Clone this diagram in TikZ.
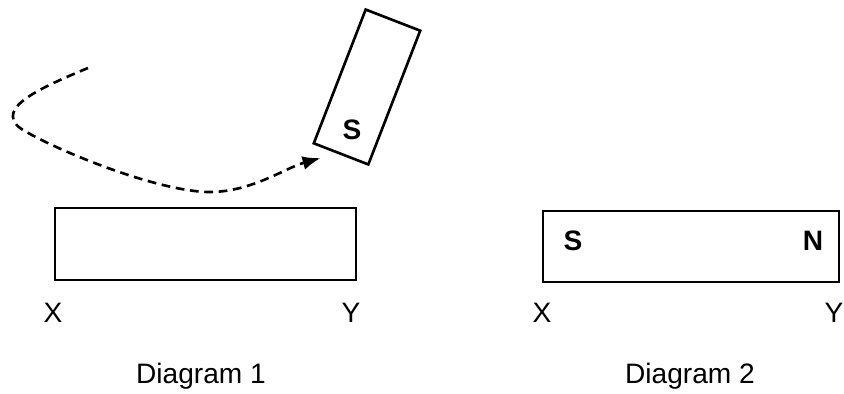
\documentclass[tikz,border=0pt]{standalone}
\usepackage{fontspec}
\setmainfont{Liberation Sans}
\usetikzlibrary{positioning,shapes,arrows.meta}

\tikzset{
  bar/.style={draw, line width=1.5pt, inner sep=0pt},
  lbl/.style={font=\fontsize{16}{18}\selectfont, anchor=base},
  pole/.style={font=\fontsize{16}{18}\selectfont\bfseries, anchor=base},
  track/.style={line width=1.5pt, dash pattern=on 5pt off 3.2pt,
                -{Latex[length=3.6mm,width=2.8mm]}}
}

\begin{document}
\begin{tikzpicture}[x=0.02cm, y=-0.02cm]

\useasboundingbox (0,0) rectangle (844,394);

% ── DIAGRAM 1: bar XY and the moving magnet ─────────────────

% Bar XY
\node[bar, minimum width=6.02cm, minimum height=1.44cm] (barA) at (205.5, 244) {};
\node[lbl] (xA) at (53, 323) {X};
\node[lbl] (yA) at (351, 323) {Y};

% Tilted magnet  (long side 143.7px at 68.8 deg)
\node[bar, minimum width=2.87cm, minimum height=1.17cm, rotate=68.8] (mag) at (367, 87) {};
\node[pole] (magS) at (352, 140) {S};

% Dashed path of the magnet
\coordinate (start) at (88, 68);
\coordinate (tip) at ([shift={(-20, 3)}]mag.west);
\draw[track] (start) .. controls (40, 88) and (-5, 108) .. (20, 128)
                     .. controls (45, 145) and (150, 190) .. (207, 192)
                     .. controls (250, 193) and (285, 168) .. (tip);

% Title
\node[lbl] (capA) at (201, 383) {Diagram 1};

% ── DIAGRAM 2: bar XY magnetised ────────────────────────────

\node[bar, minimum width=5.92cm, minimum height=1.42cm] (barB) at (691, 246.5) {};
\node[pole] (sB) at (573, 251) {S};
\node[pole] (nB) at (813, 251) {N};
\node[lbl] (xB) at (542, 323) {X};
\node[lbl] (yB) at (834, 323) {Y};

% Title
\node[lbl] (capB) at (690, 383) {Diagram 2};

\end{tikzpicture}
\end{document}
